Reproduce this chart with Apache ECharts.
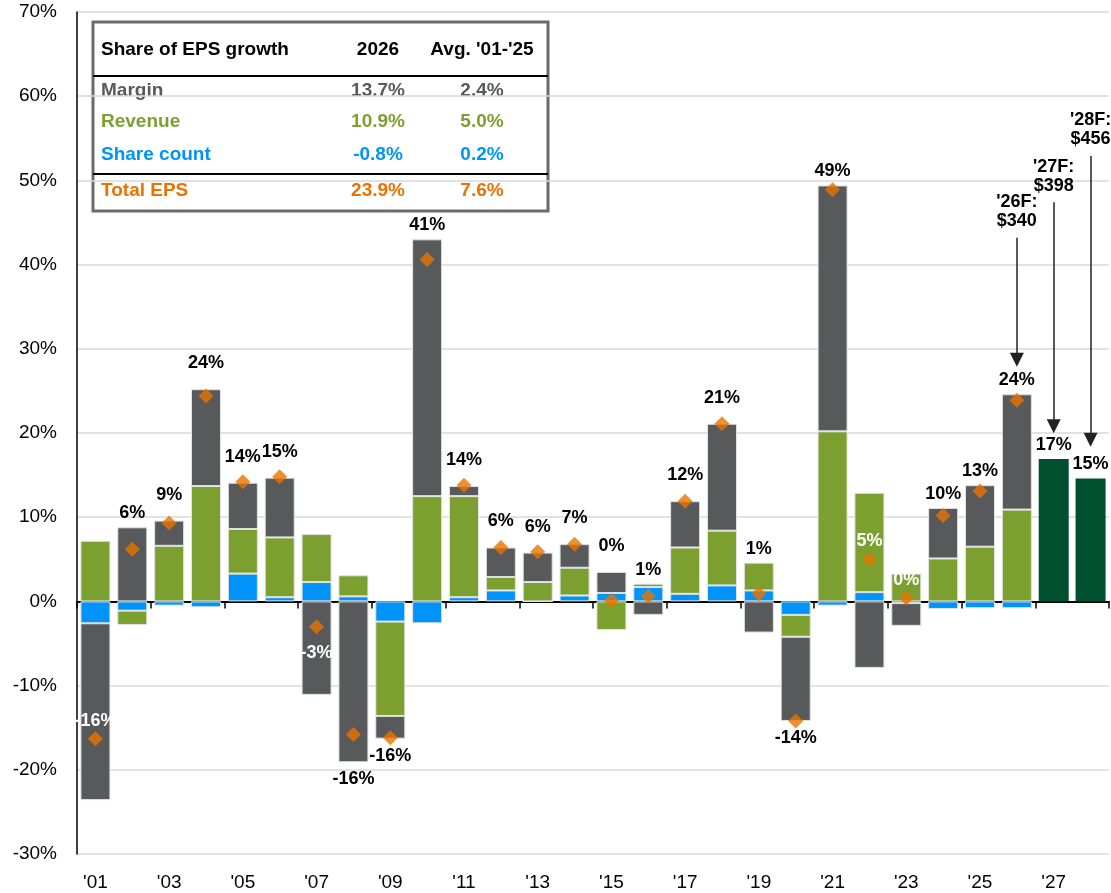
<!DOCTYPE html>
<html>
<head>
<meta charset="utf-8">
<script src="https://cdn.jsdelivr.net/npm/echarts@6/dist/echarts.min.js"></script>
<style>
  html, body { margin: 0; padding: 0; background: #fff; }
  #chart { width: 1111px; height: 893px; }
</style>
</head>
<body>
<div id="chart"></div>
<script>
const years = ["'01", "'02", "'03", "'04", "'05", "'06", "'07", "'08", "'09", "'10",
  "'11", "'12", "'13", "'14", "'15", "'16", "'17", "'18", "'19", "'20",
  "'21", "'22", "'23", "'24", "'25", "'26", "'27", "'28"]

// contributions to EPS growth, %
const shareCount = [-2.6, -1.1, -0.5, -0.7, 3.3, 0.5, 2.3, 0.6, -2.4, -2.6,
  0.5, 1.3, 0, 0.7, 1.0, 1.7, 0.9, 1.9, 1.3, -1.6,
  -0.5, 1.1, -0.2, -0.9, -0.8, -0.8, null, null]
const revenue = [7.2, -1.7, 6.6, 13.7, 5.3, 7.1, 5.7, 2.5, -11.2, 12.5,
  12.0, 1.6, 2.3, 3.3, -3.4, 0.4, 5.5, 6.5, 3.3, -2.6,
  20.2, 11.8, 3.3, 5.1, 6.5, 10.9, null, null]
const margin = [-21.0, 8.8, 3.0, 11.5, 5.5, 7.1, -11.1, -19.1, -2.7, 30.5,
  1.2, 3.5, 3.5, 2.8, 2.5, -1.6, 5.5, 12.7, -3.7, -10.0,
  29.2, -7.9, -2.7, 6.0, 7.3, 13.7, null, null]
const forecast = [null, null, null, null, null, null, null, null, null, null,
  null, null, null, null, null, null, null, null, null, null,
  null, null, null, null, null, null, 16.9, 14.6]
const totalEps = [-16.3, 6.2, 9.3, 24.4, 14.2, 14.8, -3.0, -15.8, -16.2, 40.6,
  13.8, 6.4, 5.9, 6.8, 0.1, 0.6, 11.9, 21.1, 0.9, -14.2,
  48.9, 5.0, 0.4, 10.2, 13.1, 23.9, null, null]
const labelPlace = ['inside', 'near', 'high', 'high', 'high', 'high', 'insideLow', 'below', 'below', 'near',
  'high', 'high', 'high', 'high', 'high', 'near', 'high', 'high', 'near', 'below',
  'near', 'inside', 'inside', 'near', 'near', 'near', 'near', 'near']

const forecastNotes = ["'26F:\n$340", "'27F:\n$398", "'28F:\n$456"]

const tableHead = ['Share of EPS growth', '2026', "Avg. '01-'25"]
const tableNames = ['Margin', 'Revenue', 'Share count', 'Total EPS']
const table2026 = ['13.7%', '10.9%', '-0.8%', '23.9%']
const tableAvg = ['2.4%', '5.0%', '0.2%', '7.6%']

const GRAY = '#58595B'
const GREEN = '#7BA030'
const BLUE = '#0094FA'
const DARK = '#00502F'
const ORANGE = '#E97300'
const FONT = '"Liberation Sans", Arial, sans-serif'

const comps = [shareCount, revenue, margin, forecast]
const posTop = years.map((_, i) => comps.reduce((s, a) => s + (a[i] > 0 ? a[i] : 0), 0))
const negBottom = years.map((_, i) => comps.reduce((s, a) => s + (a[i] < 0 ? a[i] : 0), 0))
const labelTotals = years.map((_, i) => totalEps[i] != null ? totalEps[i] : forecast[i])

function renderLabel(params, api) {
  const i = params.dataIndex
  const total = api.value(1)
  const mode = labelPlace[i]
  let y
  let color = '#000'
  if (mode === 'near' || mode === 'high') {
    y = api.coord([i, posTop[i]])[1] - (mode === 'near' ? 14 : 26)
  } else if (mode === 'below') {
    y = api.coord([i, negBottom[i]])[1] + 17
  } else if (mode === 'inside') {
    y = api.coord([i, total])[1] - 18
    color = '#fff'
  } else {
    y = api.coord([i, total])[1] + 26
    color = '#fff'
  }
  const x = api.coord([i, 0])[0]
  return {
    type: 'text',
    x: x,
    y: y,
    style: {
      text: Math.round(total) + '%',
      fill: color,
      font: 'bold 18px ' + FONT,
      align: 'center',
      verticalAlign: 'middle'
    }
  }
}

// table in the upper left
const tableColors = [GRAY, GREEN, BLUE, ORANGE]
const rowY = [91, 122, 155, 191]
const TFONT = 'bold 19px ' + FONT
const tableEls = [
  { type: 'rect', shape: { x: 93, y: 22, width: 455, height: 189 }, style: { fill: '#fff', stroke: '#6b6b6b', lineWidth: 3 } },
  { type: 'line', shape: { x1: 93, y1: 76, x2: 548, y2: 76 }, style: { stroke: '#000', lineWidth: 2 } },
  { type: 'line', shape: { x1: 93, y1: 174, x2: 548, y2: 174 }, style: { stroke: '#000', lineWidth: 2 } },
  { type: 'text', x: 101, y: 50, style: { text: tableHead[0], fill: '#000', font: TFONT, align: 'left', verticalAlign: 'middle' } },
  { type: 'text', x: 378, y: 50, style: { text: tableHead[1], fill: '#000', font: TFONT, align: 'center', verticalAlign: 'middle' } },
  { type: 'text', x: 482, y: 50, style: { text: tableHead[2], fill: '#000', font: TFONT, align: 'center', verticalAlign: 'middle' } }
]
tableNames.forEach((name, k) => {
  const st = { fill: tableColors[k], font: TFONT, verticalAlign: 'middle' }
  tableEls.push({ type: 'text', x: 101, y: rowY[k], style: Object.assign({ text: name, align: 'left' }, st) })
  tableEls.push({ type: 'text', x: 378, y: rowY[k], style: Object.assign({ text: table2026[k], align: 'center' }, st) })
  tableEls.push({ type: 'text', x: 482, y: rowY[k], style: Object.assign({ text: tableAvg[k], align: 'center' }, st) })
})

const arrowLine = (cat, from, to, note) => [
  { coord: [cat, from], label: { formatter: note } },
  { coord: [cat, to] }
]

const chart = echarts.init(document.getElementById('chart'))
const barBase = {
  type: 'bar',
  stack: 'eps',
  barWidth: 30,
  xAxisIndex: 0
}
const option = {
  animation: false,
  textStyle: { fontFamily: FONT },
  grid: { left: 77, right: 2, top: 12, bottom: 39, containLabel: false },
  xAxis: [
    {
      type: 'category',
      data: years,
      axisLine: { onZero: true, lineStyle: { color: '#000', width: 2 } },
      axisTick: { show: true, interval: 1, length: 7, lineStyle: { color: '#000', width: 1.5 } },
      axisLabel: { show: false },
      splitLine: { show: false }
    },
    {
      type: 'category',
      data: years,
      position: 'bottom',
      axisLine: { show: false, onZero: false },
      axisTick: { show: false },
      axisLabel: { interval: 1, margin: 19, color: '#000', fontSize: 19, fontFamily: FONT },
      splitLine: { show: false }
    }
  ],
  yAxis: {
    type: 'value',
    min: -30,
    max: 70,
    interval: 10,
    axisLine: { show: true, lineStyle: { color: '#000', width: 1.5 } },
    axisTick: { show: false },
    axisLabel: { formatter: '{value}%', color: '#000', fontSize: 19, fontFamily: FONT, margin: 20 },
    splitLine: { lineStyle: { color: '#d9d9d9', width: 1.5 } }
  },
  series: [
    Object.assign({}, barBase, { name: 'Share count', data: shareCount, itemStyle: { color: BLUE, borderColor: '#e2e2e2', borderWidth: 1 } }),
    Object.assign({}, barBase, { name: 'Revenue', data: revenue, itemStyle: { color: GREEN, borderColor: '#e2e2e2', borderWidth: 1 } }),
    Object.assign({}, barBase, { name: 'Margin', data: margin, itemStyle: { color: GRAY, borderColor: '#e2e2e2', borderWidth: 1 } }),
    Object.assign({}, barBase, {
      name: 'Forecast',
      data: forecast,
      itemStyle: { color: DARK },
      markLine: {
        silent: true,
        symbol: ['none', 'triangle'],
        symbolSize: [14, 14],
        lineStyle: { color: '#222', width: 1.5, type: 'solid' },
        label: {
          show: true,
          position: 'start',
          distance: 7,
          color: '#000',
          fontWeight: 'bold',
          fontSize: 18,
          lineHeight: 19,
          fontFamily: FONT
        },
        data: [
          arrowLine("'26", 43.2, 28.7, forecastNotes[0]),
          arrowLine("'27", 47.4, 20.8, forecastNotes[1]),
          arrowLine("'28", 52.9, 19.2, forecastNotes[2])
        ]
      }
    }),
    {
      name: 'Total EPS',
      type: 'scatter',
      data: totalEps,
      symbol: 'diamond',
      symbolSize: 15,
      itemStyle: { color: ORANGE },
      z: 3
    },
    {
      name: 'Labels',
      type: 'custom',
      data: labelTotals.map((v, i) => [i, v]),
      renderItem: renderLabel,
      z: 4,
      silent: true
    }
  ],
  graphic: [{ type: 'group', z: 10, children: tableEls }]
}
chart.setOption(option)
</script>
</body>
</html>
